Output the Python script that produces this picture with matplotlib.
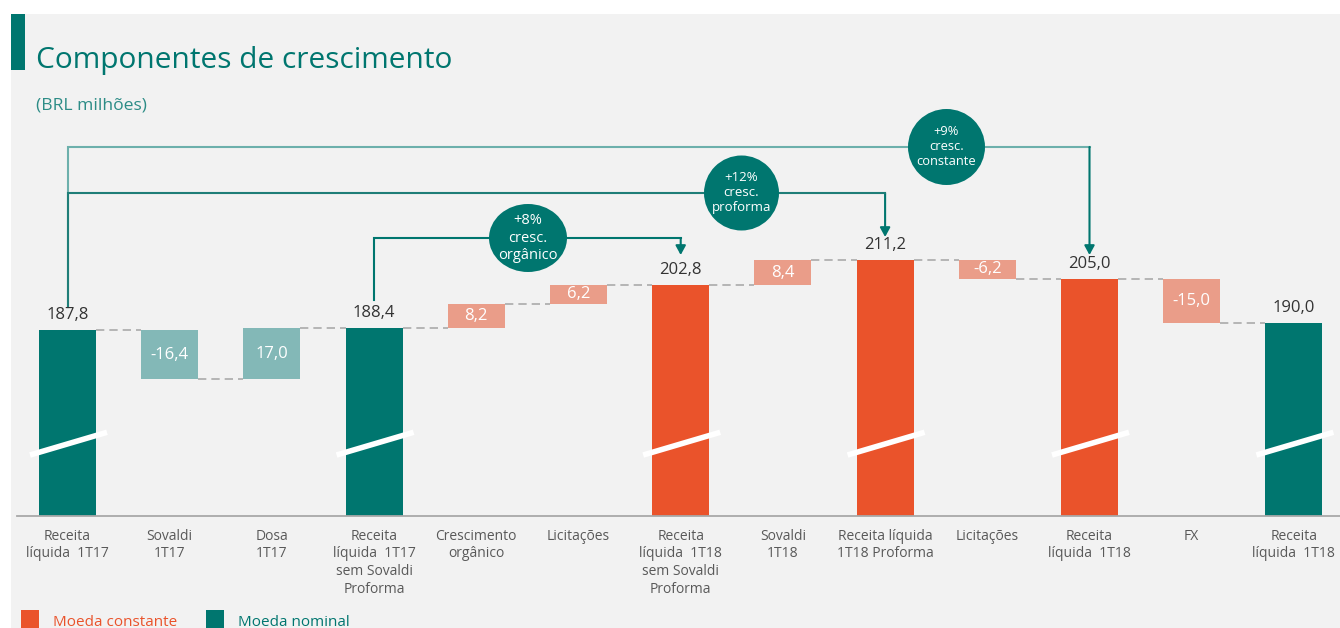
import matplotlib
matplotlib.use('Agg')
import matplotlib.pyplot as plt
from matplotlib.patches import Rectangle, Ellipse

plt.rcParams['font.family'] = ['Open Sans', 'DejaVu Sans']

# ---------------- data ----------------
categories = [
    "Receita\nlíquida  1T17",
    "Sovaldi\n1T17",
    "Dosa\n1T17",
    "Receita\nlíquida  1T17\nsem Sovaldi\nProforma",
    "Crescimento\norgânico",
    "Licitações",
    "Receita\nlíquida  1T18\nsem Sovaldi\nProforma",
    "Sovaldi\n1T18",
    "Receita líquida\n1T18 Proforma",
    "Licitações",
    "Receita\nlíquida  1T18",
    "FX",
    "Receita\nlíquida  1T18",
]
values = [187.8, -16.4, 17.0, 188.4, 8.2, 6.2, 202.8, 8.4, 211.2, -6.2, 205.0, -15.0, 190.0]
is_total = [True, False, False, True, False, False, True, False, True, False, True, False, True]
currency = ["nominal", "nominal", "nominal", "nominal", "constante", "constante", "constante",
            "constante", "constante", "constante", "constante", "constante", "nominal"]

growth_labels = ["+8%\ncresc.\norgânico", "+12%\ncresc.\nproforma", "+9%\ncresc.\nconstante"]
growth_from = [3, 0, 0]
growth_to = [6, 8, 10]

legend_labels = ["Moeda constante", "Moeda nominal"]

# ---------------- style ----------------
TEAL = "#00766F"
ORANGE = "#EA532B"
LTEAL = "#83B8B7"
SALMON = "#EA9D89"
BG = "#F2F2F2"
colors = {("nominal", True): TEAL, ("nominal", False): LTEAL,
          ("constante", True): ORANGE, ("constante", False): SALMON}

W, H = 1340, 628
fig = plt.figure(figsize=(W / 100, H / 100), dpi=100, facecolor="white")

def fx(px):
    return px / W

def fy(py):
    return 1 - py / H

# background panel and accent bar
fig.patches.append(Rectangle((fx(11), 0), 1 - fx(11), fy(14), transform=fig.transFigure,
                             facecolor=BG, edgecolor="none", zorder=-10))
fig.patches.append(Rectangle((fx(11), fy(70)), fx(25) - fx(11), fy(14) - fy(70),
                             transform=fig.transFigure, facecolor=TEAL, edgecolor="none", zorder=-9))

fig.text(fx(36), fy(68), "Componentes de crescimento", color=TEAL, fontsize=21.5,
         va="baseline", ha="left")
fig.text(fx(36), fy(109), "(BRL milhões)", color="#2C8C86", fontsize=12.6,
         va="baseline", ha="left")

# axes geometry (pixels)
ax_left, ax_right, ax_bottom, ax_top = 17, 1340, 516, 14
ax = fig.add_axes([fx(ax_left), fy(ax_bottom), fx(ax_right) - fx(ax_left), fy(ax_top) - fy(ax_bottom)])
ax.set_facecolor("none")
ax.set_zorder(5)

x0_px, step_px = 67.5, 102.2
ylo, yhi = 125.6, 293.5
ax.set_xlim((ax_left - x0_px) / step_px, (ax_right - x0_px) / step_px)
ax.set_ylim(ylo, yhi)
ppx = step_px                      # pixels per x unit
ppy = (ax_bottom - ax_top) / (yhi - ylo)  # pixels per y unit

for s in ["top", "right", "left"]:
    ax.spines[s].set_visible(False)
ax.spines["bottom"].set_color("#A8A8A8")
ax.spines["bottom"].set_linewidth(1.3)
ax.set_yticks([])

bw = 57 / ppx
xs = list(range(len(values)))
running = 0.0
levels = []
for i, v in enumerate(values):
    c = colors[(currency[i], is_total[i])]
    if is_total[i]:
        ax.bar(i, v, width=bw, bottom=0, color=c, zorder=2)
        running = v
        ax.text(i, v + 7 / ppy, f"{v:.1f}".replace(".", ","), ha="center", va="bottom",
                fontsize=12, color="#333333", zorder=4)
        # axis-break slash
        ax.plot([i - 37.5 / ppx, i + 39.5 / ppx], [146.0, 153.6], color="white", lw=4,
                solid_capstyle="butt", zorder=3, clip_on=False)
        levels.append((running, running))
    else:
        start = running
        running = running + v
        lo, hi = min(start, running), max(start, running)
        ax.bar(i, hi - lo, width=bw, bottom=lo, color=c, zorder=2)
        lbl = f"{v:.1f}".replace(".", ",")
        ax.text(i, (lo + hi) / 2, lbl, ha="center", va="center", fontsize=12,
                color="white", zorder=4)
        levels.append((start, running))

# dashed connectors
for i in range(len(values) - 1):
    lvl = levels[i][1]
    ax.plot([i + bw / 2, i + 1 - bw / 2], [lvl, lvl], color="#ABABAB", lw=1.2,
            ls=(0, (5, 3)), zorder=1)

# tick labels
ax.set_xticks(xs)
ax.set_xticklabels(categories, fontsize=10, color="#595959", linespacing=1.25)
ax.tick_params(axis="x", length=0, pad=9)

# growth brackets
bracket_level_px = [238, 193, 147]
start_px = [300, 307, 307]
tip_px = [255, 237, 255]
circle_x_px = [528, 741.5, 946.5]
circle_wh_px = [(78, 68), (75, 75), (77, 76)]
circle_fs = [10.5, 9.5, 9.3]
bracket_colors = [TEAL, "#1F7E78", "#6DB0AC"]
bracket_z = [3.2, 3.1, 3.0]

def py2v(py):
    return ylo + (ax_bottom - py) / ppy

def px2x(px):
    return (px - x0_px) / ppx

for k in range(len(growth_labels)):
    a, b = growth_from[k], growth_to[k]
    lvl = py2v(bracket_level_px[k])
    y0 = py2v(start_px[k])
    tip = py2v(tip_px[k])
    bc = bracket_colors[k]
    ax.plot([a, a, b], [y0, lvl, lvl], color=bc, lw=1.5, zorder=bracket_z[k],
            solid_joinstyle="miter")
    ax.annotate("", xy=(b, tip), xytext=(b, lvl),
                arrowprops=dict(arrowstyle="-|>,head_length=0.55,head_width=0.3",
                                color=TEAL, lw=1.5, shrinkA=0, shrinkB=0), zorder=3)
    cw, ch = circle_wh_px[k]
    cx = px2x(circle_x_px[k])
    ax.add_patch(Ellipse((cx, lvl), cw / ppx, ch / ppy, facecolor=TEAL, edgecolor="none", zorder=4))
    ax.text(cx, lvl, growth_labels[k], ha="center", va="center", color="white",
            fontsize=circle_fs[k], linespacing=1.2, zorder=5)

# legend
leg_colors = [ORANGE, TEAL]
leg_sq_px = [21, 206]
leg_txt_px = [53, 238]
for k in range(2):
    fig.patches.append(Rectangle((fx(leg_sq_px[k]), fy(628)), fx(18), fy(610) - fy(628),
                                 transform=fig.transFigure, facecolor=leg_colors[k],
                                 edgecolor="none", zorder=2))
    fig.text(fx(leg_txt_px[k]), fy(626), legend_labels[k], color=leg_colors[k], fontsize=11,
             va="baseline", ha="left")

fig.savefig("out.png", dpi=100, facecolor="white")
